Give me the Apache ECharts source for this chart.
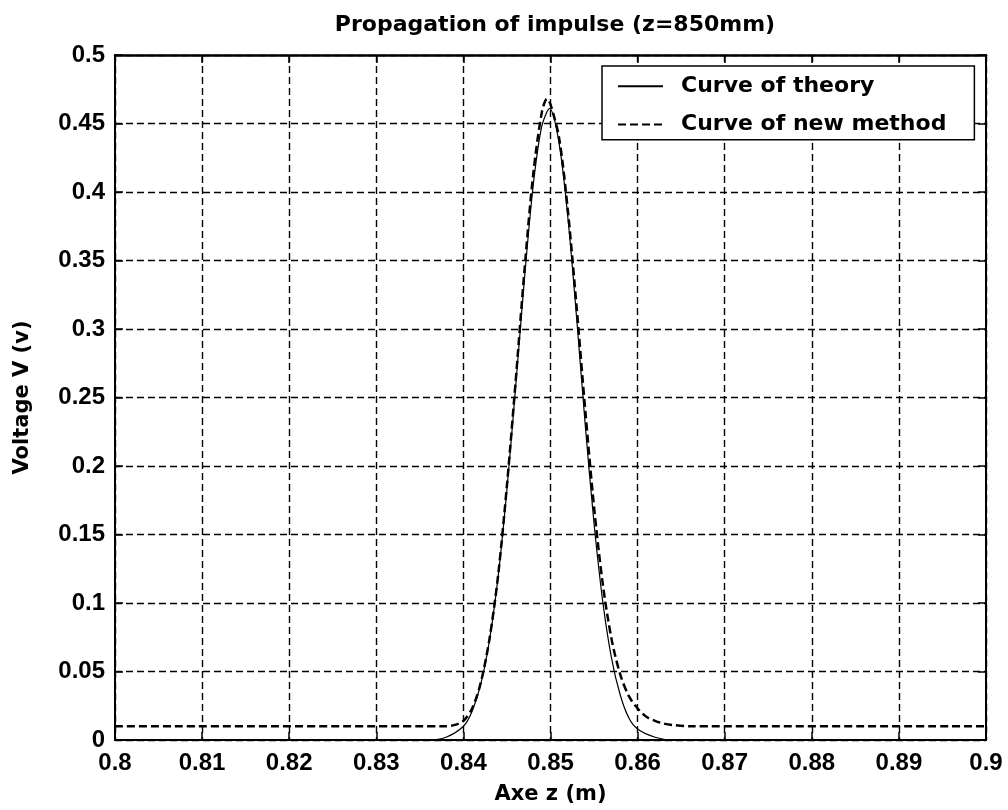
<!DOCTYPE html>
<html>
<head>
<meta charset="utf-8">
<script src="https://cdn.jsdelivr.net/npm/echarts@6/dist/echarts.min.js"></script>
<style>html,body{margin:0;padding:0;background:#fff}#c{width:1008px;height:810px}</style>
</head>
<body>
<div id="c"></div>
<script>
// Curve of theory
var zTheory = [0.800, 0.836, 0.838, 0.840, 0.841, 0.842, 0.843, 0.844, 0.845, 0.846, 0.847, 0.848, 0.849, 0.8499, 0.851, 0.852, 0.853, 0.854, 0.855, 0.856, 0.857, 0.858, 0.859, 0.860, 0.862, 0.864, 0.880];
var vTheory = [0.000, 0.000, 0.002, 0.010, 0.021, 0.041, 0.073, 0.120, 0.183, 0.258, 0.336, 0.404, 0.448, 0.461, 0.435, 0.381, 0.308, 0.229, 0.158, 0.101, 0.060, 0.033, 0.016, 0.008, 0.002, 0.000, 0.000];
// Curve of new method
var zNew = [0.800, 0.838, 0.839, 0.840, 0.841, 0.842, 0.843, 0.844, 0.845, 0.846, 0.847, 0.848, 0.849, 0.8496, 0.850, 0.851, 0.852, 0.853, 0.854, 0.855, 0.856, 0.857, 0.858, 0.859, 0.860, 0.861, 0.862, 0.863, 0.864, 0.866, 0.900];
var vNew = [0.010, 0.010, 0.011, 0.014, 0.023, 0.042, 0.074, 0.121, 0.186, 0.262, 0.342, 0.412, 0.458, 0.468, 0.464, 0.439, 0.386, 0.316, 0.240, 0.170, 0.114, 0.074, 0.048, 0.032, 0.023, 0.017, 0.014, 0.012, 0.011, 0.010, 0.010];

var xMin = 0.8, xMax = 0.9, xStep = 0.01;
var yMin = 0, yMax = 0.5, yStep = 0.05;
var titleText = 'Propagation of impulse (z=850mm)';
var xName = 'Axe z (m)';
var yName = 'Voltage V (v)';
var seriesNames = ['Curve of theory', 'Curve of new method'];

function zip(a, b) { return a.map(function (v, i) { return [v, b[i]]; }); }
function fmt(v) { return String(parseFloat(v.toFixed(3))); }

var tickFont = { fontFamily: 'Liberation Sans', fontWeight: 'bold', fontSize: 24, color: '#000' };
var gridDash = { show: true, lineStyle: { color: '#000', type: [7, 4], width: 1.4 } };

var chart = echarts.init(document.getElementById('c'), null, { renderer: 'canvas' });
chart.setOption({
  backgroundColor: '#fff',
  animation: false,
  title: {
    text: titleText,
    left: 550, top: 9, textAlign: 'center',
    textStyle: { fontFamily: 'DejaVu Sans', fontWeight: 'bold', fontSize: 22, color: '#000' }
  },
  grid: { left: 115, top: 55, right: 22, bottom: 69, show: false },
  legend: {
    orient: 'vertical',
    left: 602, top: 66,
    padding: [9, 28, 4, 15],
    itemWidth: 45, itemHeight: 28, itemGap: 16,
    backgroundColor: '#fff',
    borderColor: '#000', borderWidth: 1.5, borderRadius: 0,
    itemStyle: { opacity: 0 },
    textStyle: { fontFamily: 'DejaVu Sans', fontWeight: 'bold', fontSize: 22, color: '#000', padding: [0, 0, 0, 13] },
    data: seriesNames
  },
  xAxis: [{
    type: 'value', position: 'bottom', min: xMin, max: xMax, interval: xStep,
    name: xName, nameLocation: 'middle', nameGap: 44,
    nameTextStyle: { fontFamily: 'DejaVu Sans', fontWeight: 'bold', fontSize: 21, color: '#000' },
    axisLine: { show: true, lineStyle: { color: '#000', width: 2 } },
    axisTick: { show: true, inside: true, length: 8, lineStyle: { color: '#000', width: 1.5 } },
    axisLabel: Object.assign({ margin: 11, formatter: fmt }, tickFont),
    splitLine: gridDash
  }, {
    type: 'value', position: 'top', min: xMin, max: xMax, interval: xStep,
    axisLine: { show: true, onZero: false, lineStyle: { color: '#000', width: 2.5 } },
    axisTick: { show: true, inside: true, length: 8, lineStyle: { color: '#000', width: 1.5 } },
    axisLabel: { show: false }, splitLine: { show: false }
  }],
  yAxis: [{
    type: 'value', position: 'left', min: yMin, max: yMax, interval: yStep,
    name: yName, nameLocation: 'middle', nameGap: 82,
    nameTextStyle: { fontFamily: 'DejaVu Sans', fontWeight: 'bold', fontSize: 21, color: '#000' },
    axisLine: { show: true, lineStyle: { color: '#000', width: 2 } },
    axisTick: { show: true, inside: true, length: 8, lineStyle: { color: '#000', width: 1.5 } },
    axisLabel: Object.assign({ margin: 10, formatter: fmt }, tickFont),
    splitLine: gridDash
  }, {
    type: 'value', position: 'right', min: yMin, max: yMax, interval: yStep,
    axisLine: { show: true, onZero: false, lineStyle: { color: '#000', width: 2 } },
    axisTick: { show: true, inside: true, length: 8, lineStyle: { color: '#000', width: 1.5 } },
    axisLabel: { show: false }, splitLine: { show: false }
  }],
  series: [{
    name: seriesNames[0], type: 'line', xAxisIndex: 0, yAxisIndex: 0,
    data: zip(zTheory, vTheory), symbol: 'none', smooth: 0.3,
    lineStyle: { color: '#000', width: 1.2, type: 'solid' },
    itemStyle: { color: '#000' }, z: 3
  }, {
    name: seriesNames[1], type: 'line', xAxisIndex: 0, yAxisIndex: 0,
    data: zip(zNew, vNew), symbol: 'none', smooth: 0.3,
    lineStyle: { color: '#000', width: 2.5, type: [8, 4] },
    itemStyle: { color: '#000' }, z: 4
  }]
});
</script>
</body>
</html>
